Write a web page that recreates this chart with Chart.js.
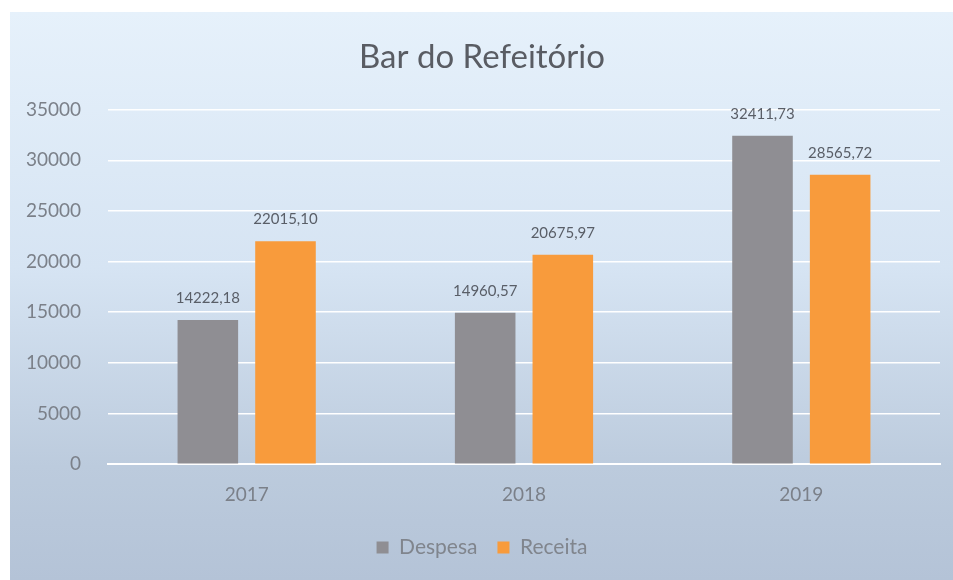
<!DOCTYPE html>
<html>
<head>
<meta charset="utf-8">
<script src="https://cdn.jsdelivr.net/npm/chart.js@4/dist/chart.umd.min.js"></script>
<style>
    html, body { margin: 0; padding: 0; background: #fff; }
    #wrap {
        position: absolute;
        left: 10px; top: 12px;
        width: 943px; height: 568px;
        background: linear-gradient(to bottom, #e6f1fb 0%, #d6e4f3 45%, #bccbdd 80%, #b4c3d7 100%);
    }
</style>
</head>
<body>
<div id="wrap"><canvas id="chart" width="943" height="568"></canvas></div>
<script>
const years = ['2017', '2018', '2019'];
const despesa = [14222.18, 14960.57, 32411.73];
const receita = [22015.10, 20675.97, 28565.72];
const yTicks = [0, 5000, 10000, 15000, 20000, 25000, 30000, 35000];

const fontFamily = 'Lato, "Open Sans", sans-serif';

// write the value above each bar, with a decimal comma
const barLabels = {
    id: 'barLabels',
    afterDatasetsDraw(chart) {
        const ctx = chart.ctx;
        ctx.save();
        ctx.font = '15px ' + fontFamily;
        ctx.fillStyle = '#595e67';
        ctx.textAlign = 'center';
        ctx.textBaseline = 'bottom';
        chart.data.datasets.forEach((ds, i) => {
            chart.getDatasetMeta(i).data.forEach((bar, j) => {
                const txt = ds.data[j].toFixed(2).replace('.', ',');
                ctx.fillText(txt, bar.x, bar.y - 14);
            });
        });
        ctx.restore();
    }
};

new Chart(document.getElementById('chart').getContext('2d'), {
    type: 'bar',
    data: {
        labels: years,
        datasets: [
            { label: 'Despesa', data: despesa, backgroundColor: '#8f8e93', categoryPercentage: 0.56, barPercentage: 0.78 },
            { label: 'Receita', data: receita, backgroundColor: '#f89b3c', categoryPercentage: 0.56, barPercentage: 0.78 }
        ]
    },
    options: {
        responsive: false,
        animation: false,
        layout: { padding: { left: 14, right: 13, top: 26, bottom: 12 } },
        plugins: {
            title: {
                display: true,
                text: 'Bar do Refeitório',
                color: '#595c63',
                font: { family: fontFamily, size: 33, weight: 'normal' },
                padding: { top: 0, bottom: 32 }
            },
            legend: {
                position: 'bottom',
                labels: {
                    color: '#80858d',
                    font: { family: fontFamily, size: 21 },
                    boxWidth: 12,
                    boxHeight: 12,
                    padding: 20
                }
            },
            tooltip: { enabled: false }
        },
        scales: {
            x: {
                grid: { display: false },
                border: { color: '#ffffff', width: 2 },
                ticks: { color: '#7b8089', font: { family: fontFamily, size: 19 }, padding: 11 }
            },
            y: {
                min: 0,
                max: 35000,
                afterBuildTicks: axis => { axis.ticks = yTicks.map(v => ({ value: v })); },
                afterFit: axis => { axis.width = 84; },
                grid: { color: '#ffffff', lineWidth: 1.5, drawTicks: false },
                border: { display: false },
                ticks: {
                    color: '#7b8089',
                    font: { family: fontFamily, size: 19 },
                    padding: 27,
                    callback: v => String(v)
                }
            }
        }
    },
    plugins: [barLabels]
});
</script>
</body>
</html>
